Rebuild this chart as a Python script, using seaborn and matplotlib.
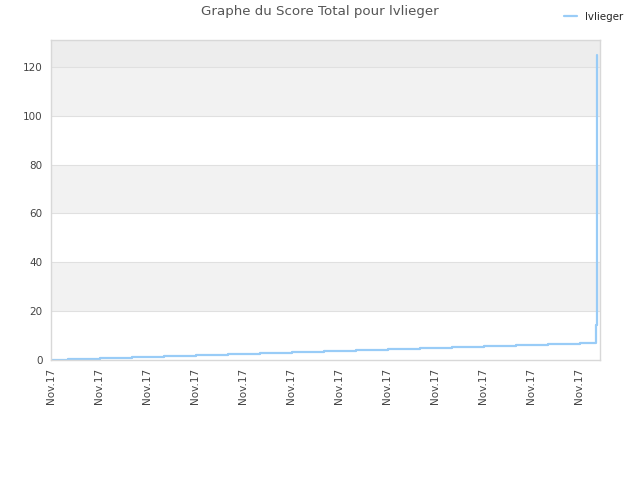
import pandas as pd
import seaborn as sns
import matplotlib.pyplot as plt

# step times (arbitrary units along the Nov.17 axis) and total score
times = [0, 1.06, 3.06, 5.06, 7.06, 9.06, 11.06, 13.06, 15.06, 17.06, 19.06,
         21.06, 23.06, 25.06, 27.06, 29.06, 31.06, 33.06, 34.06, 34.12, 34.15]
scores = [0, 0.42, 0.84, 1.25, 1.67, 2.1, 2.5, 2.92, 3.35, 3.75, 4.17,
          4.6, 5.0, 5.42, 5.85, 6.27, 6.68, 7.1, 14.5, 125, 125]
tick_pos = [0, 3, 6, 9, 12, 15, 18, 21, 24, 27, 30, 33]
tick_labels = ["Nov.17"] * 12

df = pd.DataFrame({"time": times, "score": scores})

sns.set_style("white")
plt.rcParams['font.family'] = ['DejaVu Sans']

fig = plt.figure(figsize=(6.4, 4.8), dpi=100)
ax = fig.add_axes([0.0797, 0.25, 0.8578, 0.6667])

# alternating bands
for lo, hi in [(20, 40), (60, 80), (100, 120)]:
    ax.axhspan(lo, hi, color="#F2F2F2", zorder=0, lw=0)
ax.axhspan(120, 131, color="#EDEDED", zorder=0, lw=0)
for y in [20, 40, 60, 80, 100, 120]:
    ax.axhline(y, color="#E0E0E0", lw=0.8, zorder=0.5)

sns.lineplot(data=df, x="time", y="score", drawstyle="steps-post",
             color="#99CCF7", lw=1.6, ax=ax, label="lvlieger", legend=False)

ax.set_xlim(0, 34.31)
ax.set_ylim(0, 131)
ax.set_yticks([0, 20, 40, 60, 80, 100, 120])
ax.set_xticks(tick_pos)
ax.set_xticklabels(tick_labels, rotation=90)
ax.tick_params(axis="both", length=0, labelsize=7.5, labelcolor="#444444", pad=6)
ax.set_xlabel("")
ax.set_ylabel("")
for s in ax.spines.values():
    s.set_color("#D8D8D8")
    s.set_linewidth(1)

fig.suptitle("Graphe du Score Total pour lvlieger", y=0.99, fontsize=9.6, color="#555555")
h, l = ax.get_legend_handles_labels()
fig.legend(h, l, loc="upper right", bbox_to_anchor=(0.988, 0.995), frameon=False,
           fontsize=7.4, handlelength=1.2, handletextpad=0.8)

fig.savefig("out.png", dpi=100, facecolor="white")
